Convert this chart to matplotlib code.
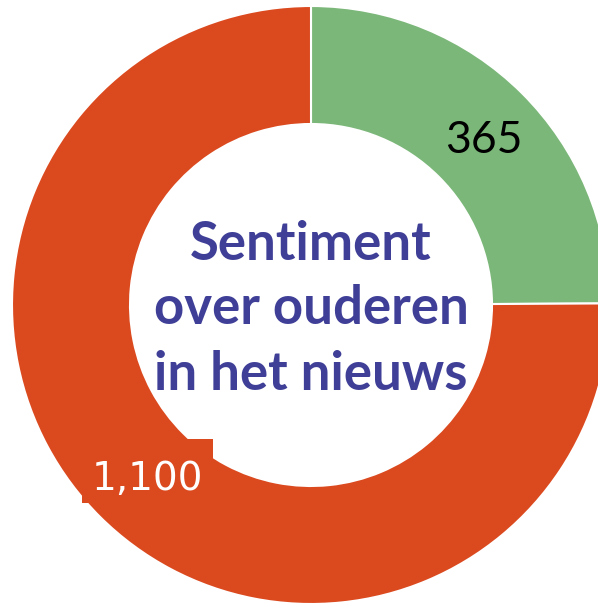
import numpy as np
import matplotlib
matplotlib.use('Agg')
import matplotlib.pyplot as plt
from matplotlib.patches import Rectangle

# data
labels = ['365', '1,100']
values = [365, 1100]
colors = ['#7BB779', '#DB491F']
title_text = 'Sentiment\nover ouderen\nin het nieuws'

W, H = 598, 606
fig = plt.figure(figsize=(W / 100, H / 100), dpi=100)
ax = fig.add_axes([0, 0, 1, 1])

cx, cy = 311, H - 305
r_out, r_in = 299, 181

wedges, _ = ax.pie(values, colors=colors, startangle=90, counterclock=False,
                   center=(cx, cy), radius=r_out, frame=True,
                   wedgeprops=dict(width=r_out - r_in, edgecolor='white', linewidth=1.5))
ax.set_xlim(0, W)
ax.set_ylim(0, H)
ax.axis('off')

# value labels at middle of ring
r_mid = (r_out + r_in) / 2
for i, w in enumerate(wedges):
    ang = np.deg2rad((w.theta1 + w.theta2) / 2)
    x = cx + r_mid * np.cos(ang)
    y = cy + r_mid * np.sin(ang)
    if i == 0:
        ax.text(x + 4, y - 6, labels[i], fontsize=32, family='Lato', color='black',
                ha='center', va='center')
    else:
        x, y = x + 6, y - 4
        # label background box like the original
        ax.add_patch(Rectangle((x - 66, y - 24), 131, 64, facecolor=colors[1],
                               edgecolor='none', zorder=3))
        ax.text(x, y, labels[i], fontsize=28, family='DejaVu Sans', color='white',
                ha='center', va='center', zorder=4)

ax.text(cx, cy - 4, title_text, fontsize=38, family='Lato', fontweight='bold',
        color='#3F3F98', ha='center', va='center', linespacing=1.4)

fig.savefig('out.png', dpi=100)
